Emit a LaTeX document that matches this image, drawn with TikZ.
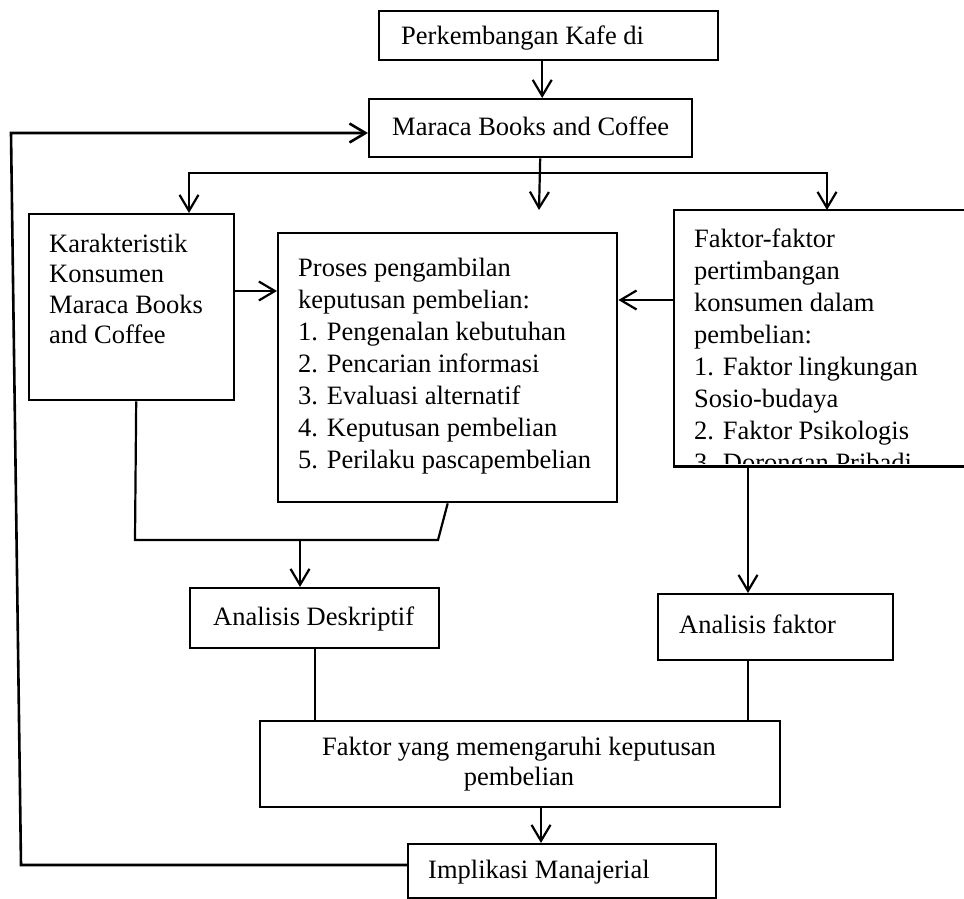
\documentclass[tikz,border=0pt]{standalone}
\usepackage{fontspec}
\setmainfont{Liberation Serif}
\usetikzlibrary{arrows.meta}
\begin{document}
\begin{tikzpicture}[x=1pt,y=-1pt,
  box/.style={draw, line width=2.4pt, inner sep=0pt, anchor=north west},
  openbox/.style={inner sep=0pt, anchor=north west},
  txt/.style={inner sep=0pt, anchor=base west, align=left, font=\fontsize{26.5}{32}\selectfont},
  ln/.style={line width=2.2pt, line cap=rect},
  thinln/.style={line width=1.8pt},
  arr/.style={line width=2.2pt, -{Straight Barb[length=16pt,width=19pt]}},
  fbarr/.style={line width=2.6pt, line join=miter, -{Straight Barb[length=16pt,width=19pt]}}]
\useasboundingbox (0,0) rectangle (964,899);
% boxes
\node[box, minimum width=339pt, minimum height=49pt] (top) at (378,10) {};
\node[box, minimum width=323pt, minimum height=58pt] (maraca) at (368,98) {};
\node[box, minimum width=205pt, minimum height=186pt] (kar) at (28,213) {};
\node[box, minimum width=339pt, minimum height=269pt] (proc) at (277,232) {};
\node[openbox, minimum width=292pt, minimum height=256pt] (fak) at (674,210) {};
\draw[line width=2.4pt] (fak.north east) -- (fak.north west) -- (fak.south west) -- (fak.south east);
\node[box, minimum width=249pt, minimum height=60pt] (ad) at (189,587) {};
\node[box, minimum width=235pt, minimum height=66pt] (af) at (657,593) {};
\node[box, minimum width=520pt, minimum height=86pt] (fy) at (259,720) {};
\node[box, minimum width=308pt, minimum height=54pt] (impl) at (407,843) {};
% texts (multi-line nodes are placed by the baseline of their last line)
\node[txt] (ttop) at (401,45) {Perkembangan Kafe di};
\node[txt] (tmar) at (392,135) {Maraca Books and Coffee};
\node[txt, font=\fontsize{26.5}{30.5}\selectfont] (tkar) at (49,343.5) {Karakteristik\\Konsumen\\Maraca Books\\and Coffee};
\node[txt] (tproc) at (298,468) {Proses pengambilan\\keputusan pembelian:\\1. Pengenalan kebutuhan\\2. Pencarian informasi\\3. Evaluasi alternatif\\4. Keputusan pembelian\\5. Perilaku pascapembelian};
\begin{scope}
\clip (674,211) rectangle (964,463);
\node[txt] (tfak) at (694,471) {Faktor-faktor\\pertimbangan\\konsumen dalam\\pembelian:\\1. Faktor lingkungan\\Sosio-budaya\\2. Faktor Psikologis\\3. Dorongan Pribadi};
\end{scope}
\node[txt] (tad) at (213,625) {Analisis Deskriptif};
\node[txt] (taf) at (679,633) {Analisis faktor};
\node[txt, anchor=base, align=center, font=\fontsize{26.5}{30}\selectfont] (tfy) at (519,785) {Faktor yang memengaruhi keputusan\\pembelian};
\node[txt] (timpl) at (428,878) {Implikasi Manajerial};
% connectors
\draw[arr] ([xshift=-6.5pt]top.south) -- ([xshift=11.5pt]maraca.north);
\coordinate (jL) at (189,173);
\coordinate (jR) at (827,173);
\coordinate (cT) at (539,210);
\draw[arr] ([xshift=9.5pt]maraca.south) -- (cT);
\draw[ln] (jL) -- (jR);
\draw[arr] (jL) -- (jL |- kar.north);
\draw[arr] (jR) -- (jR |- fak.north);
\coordinate (yA) at (0,291);
\coordinate (yB) at (0,300);
\draw[arr] (kar.east |- yA) -- (proc.west |- yA);
\draw[arr] (fak.west |- yB) -- (proc.east |- yB);
\coordinate (m1) at (135,540);
\coordinate (m2) at (438,540);
\coordinate (mC) at (300,540);
\draw[line width=2.2pt] ([xshift=4.5pt]kar.south) -- (m1) -- (m2) -- (proc.south);
\draw[arr] (mC) -- (mC |- ad.north);
\coordinate (xF) at (748,0);
\draw[arr] (xF |- fak.south) -- (xF |- af.north);
\draw[thinln] (ad.south) -- (ad.south |- fy.north);
\draw[thinln] (xF |- af.south) -- (xF |- fy.north);
\coordinate (xM) at (541,0);
\draw[arr] (xM |- fy.south) -- (xM |- impl.north);
\coordinate (fb1) at (21,865);
\coordinate (fb2) at (11,133);
\draw[fbarr] (impl.west |- fb1) -- (fb1) -- (fb2) -- (maraca.west |- fb2);
\end{tikzpicture}
\end{document}
